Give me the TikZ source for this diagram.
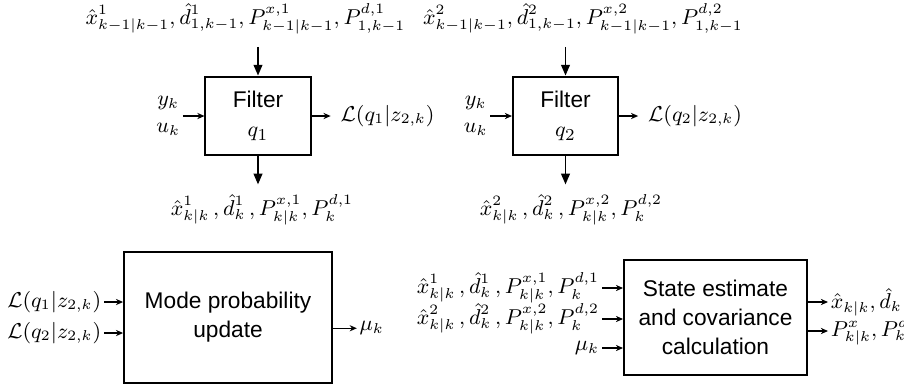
\documentclass[tikz,border=0pt]{standalone}
\usepackage{amsmath,amssymb}
\usepackage{fontspec}
\setsansfont{Liberation Sans}
\usepackage{tikz}
\usetikzlibrary{positioning,arrows.meta}

\begin{document}
\begin{tikzpicture}[
  x=0.4185pt, y=-0.4185pt,
  blockbox/.style={draw=black, line width=0.8pt, align=center, inner sep=0pt, font=\sffamily\fontsize{9.5}{12.2}\selectfont},
  sig/.style={inner sep=1pt, font=\fontsize{8.6}{11.3}\selectfont},
  bigarr/.style={-{Triangle[length=4.5pt,width=3.6pt]}, line width=0.8pt},
  arr/.style={-{Stealth[length=3pt,width=2.6pt]}, line width=0.5pt}
]
  \useasboundingbox (0,0) rectangle (904,390);

  \node[blockbox, minimum width=44pt, minimum height=33pt] (f1) at (258,116) {Filter\\$q_1$};
  \node[blockbox, minimum width=44pt, minimum height=33pt] (f2) at (565.5,116) {Filter\\$q_2$};

  \node[sig] (in1) at (245.5,19) {$\hat{x}^1_{k-1|k-1}, \hat{d}^1_{1,k-1}, P^{x,1}_{k-1|k-1}, P^{d,1}_{1,k-1}$};
  \node[sig] (in2) at (583,19) {$\hat{x}^2_{k-1|k-1}, \hat{d}^2_{1,k-1}, P^{x,2}_{k-1|k-1}, P^{d,2}_{1,k-1}$};
  \node[sig] (out1) at (262,210) {$\hat{x}^1_{k|k}\,, \hat{d}^1_k\,, P^{x,1}_{k|k}, P^{d,1}_k$};
  \node[sig] (out2) at (571,210) {$\hat{x}^2_{k|k}\,, \hat{d}^2_k\,, P^{x,2}_{k|k}, P^{d,2}_k$};

  \node[sig, align=center, left=9pt of f1] (yu1) {$y_k$\\$u_k$};
  \node[sig, align=center, left=9pt of f2] (yu2) {$y_k$\\$u_k$};
  \node[sig, right=11pt of f1] (lik1) {$\mathcal{L}(q_1|z_{2,k})$};
  \node[sig, right=11pt of f2] (lik2) {$\mathcal{L}(q_2|z_{2,k})$};

  \foreach \f in {1,2} {
    \draw[bigarr, shorten <=4pt] (in\f.south -| f\f.north) -- (f\f.north);
    \draw[bigarr, shorten >=3pt] (f\f.south) -- (out\f.north -| f\f.south);
    \draw[arr] (yu\f) -- (f\f);
    \draw[arr, shorten >=3pt] (f\f) -- (lik\f);
  }

  \node[blockbox, minimum width=87pt, minimum height=54.8pt] (mp) at (228,317.5) {Mode probability\\update};
  \node[sig, anchor=east] (lq1) at (104,302) {$\mathcal{L}(q_1|z_{2,k})$};
  \node[sig, anchor=east] (lq2) at (104,333) {$\mathcal{L}(q_2|z_{2,k})$};
  \node[sig, right=10pt of mp, yshift=-4.5pt] (mu) {$\mu_k$};

  \node[blockbox, minimum width=76.6pt, minimum height=48.1pt] (se) at (715.5,317.5) {State estimate\\and covariance\\calculation};
  \node[sig, anchor=east] (s1) at (602,288) {$\hat{x}^1_{k|k}\,, \hat{d}^1_k\,, P^{x,1}_{k|k}, P^{d,1}_k$};
  \node[sig, anchor=east] (s2) at (602,319) {$\hat{x}^2_{k|k}\,, \hat{d}^2_k\,, P^{x,2}_{k|k}, P^{d,2}_k$};
  \node[sig, anchor=east] (smu) at (602,348) {$\mu_k$};
  \node[sig, anchor=west] (o1) at (828,302) {$\hat{x}_{k|k}, \hat{d}_k$};
  \node[sig, anchor=west] (o2) at (828,331) {$P^x_{k|k}, P^d_k$};

  \foreach \a in {lq1,lq2} \draw[arr] (\a) -- (\a -| mp.west);
  \draw[arr] (mp.east |- mu) -- (mu);
  \foreach \a in {s1,s2,smu} \draw[arr] (\a) -- (\a -| se.west);
  \foreach \b in {o1,o2} \draw[arr] (\b -| se.east) -- (\b);
\end{tikzpicture}
\end{document}
